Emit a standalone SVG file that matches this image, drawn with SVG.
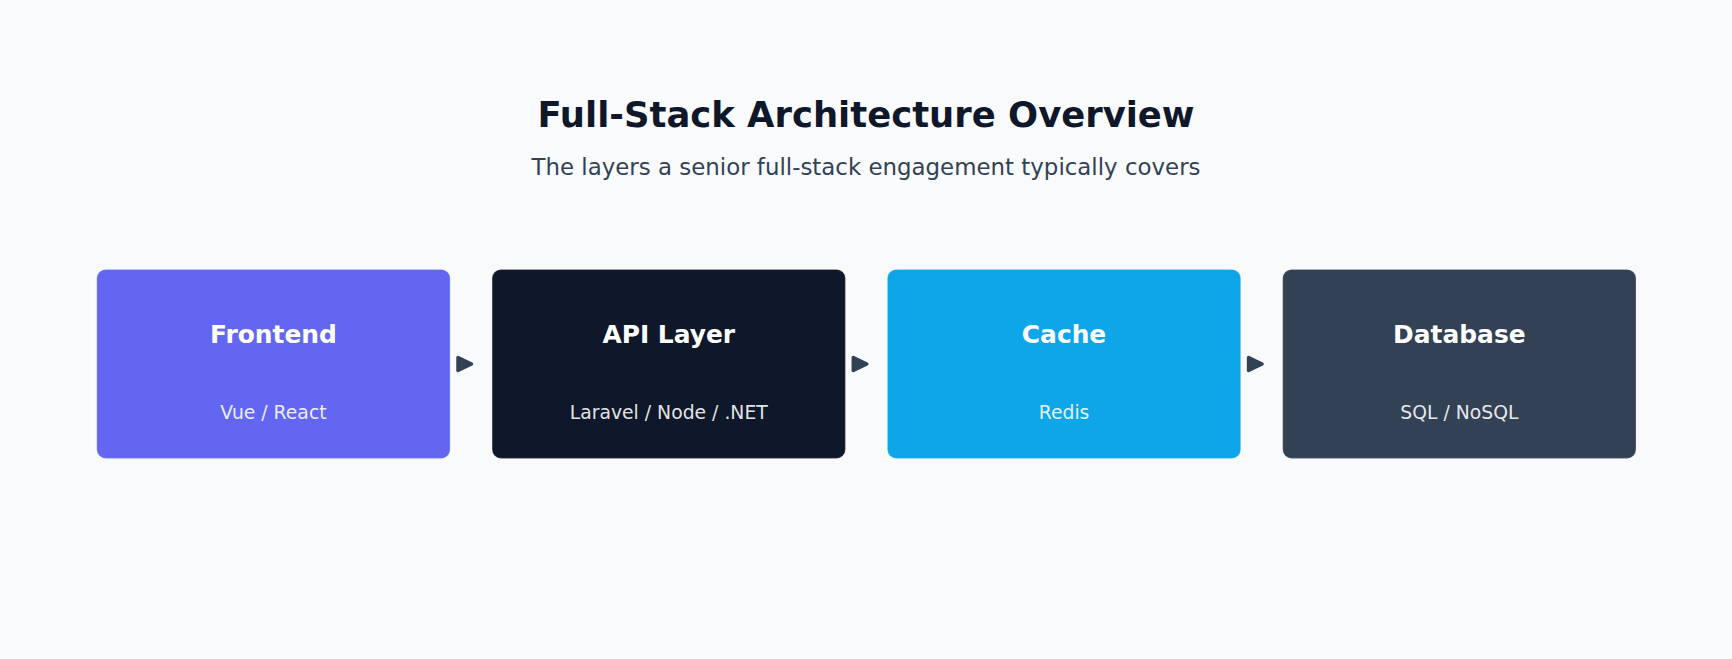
<svg xmlns="http://www.w3.org/2000/svg" width="1732" height="659" viewBox="0 0 1732 659">
<style>
.title{font-family:"DejaVu Sans",sans-serif;font-weight:bold;font-size:35.4px;fill:#0f172a;text-anchor:middle}
.subtitle{font-family:"DejaVu Sans",sans-serif;font-size:22.9px;fill:#334155;text-anchor:middle}
.box{stroke:#ffffff;stroke-opacity:0.2;stroke-width:1.2}
.ntitle{font-family:"DejaVu Sans",sans-serif;font-weight:bold;font-size:24.9px;fill:#ffffff;text-anchor:middle}
.nsub{font-family:"DejaVu Sans",sans-serif;font-size:18.8px;fill:#ffffff;fill-opacity:0.9;text-anchor:middle}
.arrow{fill:#334155;stroke:#334155;stroke-width:3.5;stroke-linejoin:round}
</style>
<rect x="0" y="0" width="1732" height="659" fill="#f8fafc"/>
<text class="title" x="866" y="126.5">Full-Stack Architecture Overview</text>
<text class="subtitle" x="866" y="175">The layers a senior full-stack engagement typically covers</text>
<g id="connectors">
<path class="arrow" d="M458 357.5 L471.5 364 L458 370.5 Z"/>
<path class="arrow" d="M853.3 357.5 L866.8 364 L853.3 370.5 Z"/>
<path class="arrow" d="M1248.6 357.5 L1262.1 364 L1248.6 370.5 Z"/>
</g>
<g id="frontend">
<rect class="box" x="96.8" y="269.5" width="353.3" height="188.9" rx="8.8" fill="#6366f1"/>
<text class="ntitle" x="273.45" y="342.7">Frontend</text>
<text class="nsub" x="273.45" y="419.3">Vue / React</text>
</g>
<g id="api-layer">
<rect class="box" x="492.1" y="269.5" width="353.3" height="188.9" rx="8.8" fill="#0f172a"/>
<text class="ntitle" x="668.75" y="342.7">API Layer</text>
<text class="nsub" x="668.75" y="419.3">Laravel / Node / .NET</text>
</g>
<g id="cache">
<rect class="box" x="887.4" y="269.5" width="353.3" height="188.9" rx="8.8" fill="#0ea5e9"/>
<text class="ntitle" x="1064.05" y="342.7">Cache</text>
<text class="nsub" x="1064.05" y="419.3">Redis</text>
</g>
<g id="database">
<rect class="box" x="1282.7" y="269.5" width="353.3" height="188.9" rx="8.8" fill="#334155"/>
<text class="ntitle" x="1459.35" y="342.7">Database</text>
<text class="nsub" x="1459.35" y="419.3">SQL / NoSQL</text>
</g>
</svg>
